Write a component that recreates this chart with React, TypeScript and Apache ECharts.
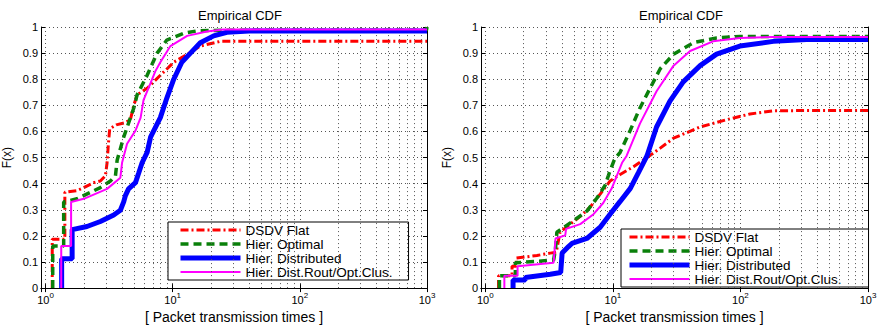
import React, { useEffect, useRef } from 'react';
import * as echarts from 'echarts';

const seriesNames = ['DSDV Flat', 'Hier. Optimal', 'Hier. Distributed', 'Hier. Dist.Rout/Opt.Clus.'];
const panelTitle = 'Empirical CDF';
const xAxisName = '[ Packet transmission times ]';
const yAxisName = 'F(x)';
const minorGridX = [2, 3, 4, 5, 6, 7, 8, 9, 20, 30, 40, 50, 60, 70, 80, 90, 200, 300, 400, 500, 600, 700, 800, 900];

// Left panel
const leftDsdv: number[][] = [
  [1.13, 0], [1.13, 0.187], [1.42, 0.187], [1.42, 0.367], [1.77, 0.373], [2.0, 0.385], [2.4, 0.404],
  [2.7, 0.41], [2.96, 0.43], [3.05, 0.48], [3.12, 0.55], [3.2, 0.61], [3.6, 0.625], [4.2, 0.633],
  [4.65, 0.645], [4.95, 0.7], [5.25, 0.74], [6.3, 0.765], [8.0, 0.815], [10.2, 0.865], [13, 0.895],
  [16.5, 0.927], [23.7, 0.945], [1000, 0.945],
];
const leftOptimal: number[][] = [
  [1.14, 0], [1.14, 0.161], [1.39, 0.161], [1.39, 0.33], [1.77, 0.342], [2.26, 0.367], [2.7, 0.385],
  [3.24, 0.41], [3.55, 0.43], [3.66, 0.49], [4.12, 0.578], [4.95, 0.69], [5.25, 0.74], [6.3, 0.815],
  [7.55, 0.9], [9.0, 0.95], [12.2, 0.976], [15.5, 0.985], [25, 0.988], [990, 0.988], [1000, 1.0],
];
const leftDistributed: number[][] = [
  [1.34, 0], [1.34, 0.112], [1.62, 0.112], [1.62, 0.224], [2.12, 0.236], [2.7, 0.255], [3.44, 0.28],
  [3.88, 0.298], [4.12, 0.33], [4.25, 0.354], [4.5, 0.38], [5.1, 0.404], [5.4, 0.44], [5.75, 0.48],
  [6.3, 0.52], [6.7, 0.578], [8.0, 0.653], [9.0, 0.728], [10.2, 0.8], [11.8, 0.865], [13.8, 0.9],
  [16.5, 0.94], [21, 0.966], [26.7, 0.98], [40, 0.985], [1000, 0.985],
];
const leftDistRout: number[][] = [
  [1.33, 0], [1.33, 0.161], [1.59, 0.161], [1.59, 0.33], [2.0, 0.342], [3.05, 0.38], [3.88, 0.423],
  [4.0, 0.48], [4.38, 0.553], [5.1, 0.603], [5.6, 0.653], [5.9, 0.72], [6.7, 0.785], [7.3, 0.83],
  [8.0, 0.865], [9.6, 0.927], [13, 0.966], [18.6, 0.983], [25, 0.99], [1000, 0.99],
];

// Right panel
const rightDsdv: number[][] = [
  [1.27, 0], [1.27, 0.047], [1.62, 0.047], [1.62, 0.084], [1.75, 0.084], [1.75, 0.115], [2.54, 0.125],
  [3.23, 0.134], [3.6, 0.137], [3.85, 0.214], [4.63, 0.245], [5.55, 0.275], [6.63, 0.31], [7.95, 0.36],
  [9.5, 0.41], [11.4, 0.435], [14.5, 0.465], [18.5, 0.5], [23.5, 0.536], [29.9, 0.574], [48.3, 0.617],
  [78, 0.645], [119, 0.667], [181, 0.679], [300, 0.68], [1000, 0.68],
];
const rightOptimal: number[][] = [
  [1.29, 0], [1.29, 0.047], [1.72, 0.047], [1.72, 0.097], [3.43, 0.107], [3.55, 0.15], [3.64, 0.214],
  [4.91, 0.258], [6.25, 0.295], [7.5, 0.345], [8.7, 0.394], [9.4, 0.443], [10.3, 0.493], [11.4, 0.52],
  [13.7, 0.605], [16.3, 0.69], [19.6, 0.766], [23.5, 0.84], [29.9, 0.896], [42.8, 0.94], [65, 0.958],
  [99, 0.964], [1000, 0.964],
];
const rightDistributed: number[][] = [
  [1.65, 0], [1.65, 0.031], [2.06, 0.031], [2.06, 0.041], [3.23, 0.053], [3.9, 0.06], [4.0, 0.134],
  [4.49, 0.159], [4.77, 0.171], [6.25, 0.19], [7.95, 0.233], [9.5, 0.283], [11.4, 0.332], [13.7, 0.382],
  [15.9, 0.443], [18.5, 0.506], [22, 0.617], [28, 0.716], [35.6, 0.79], [48.3, 0.852], [65, 0.896],
  [99, 0.927], [181, 0.945], [330, 0.952], [1000, 0.952],
];
const rightDistRout: number[][] = [
  [1.41, 0], [1.41, 0.047], [1.79, 0.047], [1.79, 0.084], [3.43, 0.097], [3.55, 0.19], [4.23, 0.202],
  [4.3, 0.227], [5.55, 0.245], [7.05, 0.283], [8.4, 0.326], [9.8, 0.382], [10.75, 0.431], [11.8, 0.48],
  [12.8, 0.506], [16.3, 0.63], [22, 0.754], [29.9, 0.852], [40.3, 0.908], [61, 0.945], [99, 0.958],
  [181, 0.962], [1000, 0.962],
];

const leftData = [leftDsdv, leftOptimal, leftDistributed, leftDistRout];
const rightData = [rightDsdv, rightOptimal, rightDistributed, rightDistRout];

const FONT = "'Liberation Sans', Arial, Helvetica, sans-serif";
const lineStyles: any[] = [
  { color: '#ff0000', width: 3, type: [8, 3, 2, 3] },
  { color: '#0a800a', width: 3.5, type: [8, 5] },
  { color: '#0000ff', width: 5, type: 'solid' },
  { color: '#ff00ff', width: 2, type: 'solid' },
];
const gridLine = { color: '#555', width: 1, type: [1, 3] as any };

function logLabel(v: number) {
  const e = Math.log10(v);
  const r = Math.round(e);
  if (Math.abs(e - r) > 1e-6) return '';
  return `{b|10}{s|${r}}`;
}

export default function App() {
  const ref = useRef<HTMLDivElement>(null);
  useEffect(() => {
    if (!ref.current) return;
    const chart = echarts.init(ref.current, undefined, { renderer: 'svg' });
    const grids = [
      { left: 40.5, top: 27, width: 386.5, height: 268 },
      { left: 481, top: 27, width: 387, height: 269 },
    ];
    const xMins = [0.922, 0.925];
    const xAxes: any[] = [];
    const yAxes: any[] = [];
    grids.forEach((_, i) => {
      xAxes.push({
        type: 'log', logBase: 10, gridIndex: i, min: xMins[i], max: 1000, position: 'bottom',
        name: xAxisName, nameLocation: 'middle', nameGap: 17,
        nameTextStyle: { fontSize: 14, fontFamily: FONT, color: '#000' },
        axisLine: { show: true, lineStyle: { color: '#000', width: 1 } },
        axisTick: { show: true, inside: true, length: 4, lineStyle: { color: '#000' } },
        axisLabel: {
          formatter: logLabel, margin: 3, color: '#000',
          rich: {
            b: { fontSize: 11, fontFamily: FONT, color: '#000', lineHeight: 14, verticalAlign: 'bottom' },
            s: { fontSize: 8, fontFamily: FONT, color: '#000', lineHeight: 9, verticalAlign: 'top' },
          },
        },
        splitLine: { show: true, lineStyle: gridLine },
      });
      xAxes.push({
        type: 'log', logBase: 10, gridIndex: i, min: xMins[i], max: 1000, position: 'top',
        axisLine: { show: true, lineStyle: { color: '#000', width: 1 } },
        axisTick: { show: true, inside: true, length: 4, lineStyle: { color: '#000' } },
        axisLabel: { show: false },
        splitLine: { show: false },
      });
      yAxes.push({
        type: 'value', gridIndex: i, min: 0, max: 1, interval: 0.1, position: 'left',
        name: yAxisName, nameLocation: 'middle', nameGap: 28, nameRotate: 90,
        nameTextStyle: { fontSize: 12, fontFamily: FONT, color: '#000' },
        axisLine: { show: true, lineStyle: { color: '#000', width: 1 } },
        axisTick: { show: true, inside: true, length: 4, lineStyle: { color: '#000' } },
        axisLabel: {
          margin: 3, fontSize: 11, fontFamily: FONT, color: '#000',
          formatter: (v: number) => (v === 0 ? '0' : v === 1 ? '1' : v.toFixed(1)),
        },
        splitLine: { show: true, lineStyle: gridLine },
      });
      yAxes.push({
        type: 'value', gridIndex: i, min: 0, max: 1, interval: 0.1, position: 'right',
        axisLine: { show: true, lineStyle: { color: '#000', width: 1 } },
        axisTick: { show: true, inside: true, length: 4, lineStyle: { color: '#000' } },
        axisLabel: { show: false },
        splitLine: { show: false },
      });
    });

    const series: any[] = [];
    [leftData, rightData].forEach((panel, i) => {
      series.push({
        type: 'line', name: '__grid' + i, xAxisIndex: 2 * i, yAxisIndex: 2 * i,
        data: [[1, 0]], showSymbol: false, symbol: 'none', lineStyle: { opacity: 0 }, z: 1, silent: true,
        markLine: {
          silent: true, symbol: ['none', 'none'], label: { show: false }, animation: false,
          lineStyle: gridLine,
          data: minorGridX.map((v) => ({ xAxis: v })),
        },
      });
      panel.forEach((d, k) => {
        series.push({
          type: 'line', name: seriesNames[k], xAxisIndex: 2 * i, yAxisIndex: 2 * i,
          data: d, symbol: 'none', showSymbol: false, z: 3 + k,
          lineStyle: lineStyles[k], itemStyle: { color: lineStyles[k].color },
        });
      });
    });

    const legendBase = {
      data: seriesNames, orient: 'vertical', selectedMode: false,
      backgroundColor: '#fff', borderColor: '#000', borderWidth: 1, borderRadius: 0,
      itemWidth: 60, itemHeight: 8, itemGap: 0,
      lineStyle: { width: 'inherit', type: 'inherit', color: 'inherit' },
      itemStyle: { opacity: 0 },
    };

    chart.setOption({
      animation: false,
      grid: grids,
      xAxis: xAxes,
      yAxis: yAxes,
      legend: [
        { ...legendBase, left: 168, top: 222, padding: [1, 16, 1, 10],
          textStyle: { fontSize: 13.5, fontFamily: FONT, color: '#000', lineHeight: 13.5 } },
        { ...legendBase, left: 621, top: 229, padding: [1, 27, 1, 6],
          textStyle: { fontSize: 13.5, fontFamily: FONT, color: '#000', lineHeight: 13.5 } },
      ],
      graphic: [
        { type: 'text', x: 240, y: 15, style: { text: panelTitle, align: 'center', verticalAlign: 'middle', fontSize: 13, fontFamily: FONT, fill: '#000' } },
        { type: 'text', x: 681, y: 15, style: { text: panelTitle, align: 'center', verticalAlign: 'middle', fontSize: 13, fontFamily: FONT, fill: '#000' } },
      ],
      series,
    });
    return () => chart.dispose();
  }, []);
  return (
    <div
      ref={ref}
      style={{ position: 'fixed', left: 0, top: 0, width: 880, height: 329, background: '#fff' }}
    />
  );
}
